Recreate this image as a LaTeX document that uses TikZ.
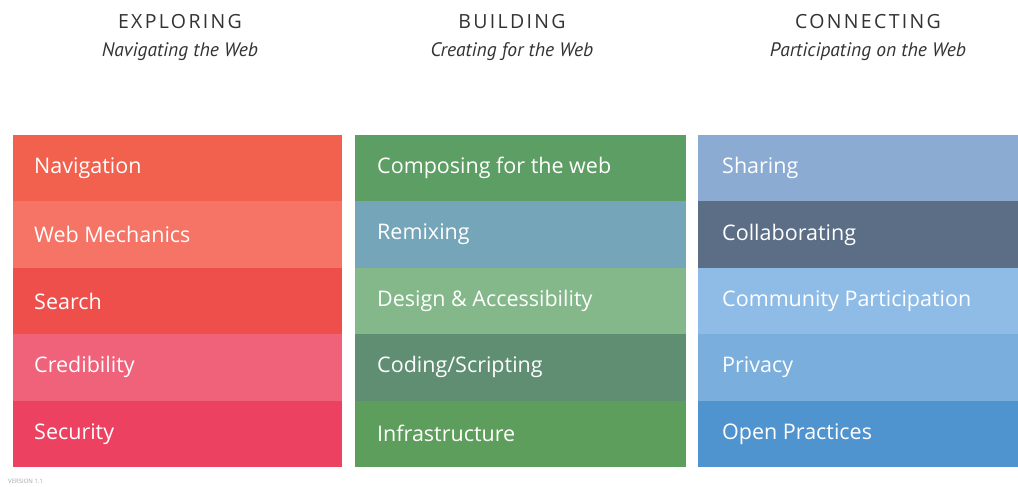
\documentclass[tikz,border=0pt]{standalone}
\usepackage{fontspec}
\setmainfont{Open Sans}
\newfontfamily\headfont[LetterSpace=12]{Open Sans}
\newfontfamily\subfont{PT Sans}
\definecolor{navC}{HTML}{F2604E}
\definecolor{mechC}{HTML}{F57466}
\definecolor{searchC}{HTML}{EF4F4A}
\definecolor{credC}{HTML}{F0627A}
\definecolor{secC}{HTML}{EC4160}
\definecolor{compC}{HTML}{5C9E64}
\definecolor{remixC}{HTML}{74A5B8}
\definecolor{designC}{HTML}{84B88A}
\definecolor{codeC}{HTML}{5F8E72}
\definecolor{infraC}{HTML}{5E9E5C}
\definecolor{shareC}{HTML}{8BABD3}
\definecolor{collabC}{HTML}{5B6E86}
\definecolor{commC}{HTML}{8EBCE6}
\definecolor{privC}{HTML}{7AAEDC}
\definecolor{openC}{HTML}{4F93CF}
\definecolor{headC}{HTML}{333333}
\tikzset{
  band/.style={fill=#1, draw=none},
  bandlabel/.style={anchor=west, text=white, font=\fontsize{21.5}{24}\selectfont, inner sep=0pt},
  heading/.style={text=headC, font=\headfont\fontsize{19.5}{22}\selectfont, inner sep=0pt},
  subheading/.style={text=headC, font=\subfont\itshape\fontsize{19.5}{22}\selectfont, inner sep=0pt},
}
\begin{document}
\begin{tikzpicture}[x=1pt,y=-1pt]
\useasboundingbox[fill=white] (0,0) rectangle (1018,487);

% column headings
\node[heading] (hExp) at (180,22) {EXPLORING};
\node[subheading] (sExp) at (180,52) {Navigating the Web};
\node[heading] (hBld) at (512,22) {BUILDING};
\node[subheading] (sBld) at (512,52) {Creating for the Web};
\node[heading] (hCon) at (868,22) {CONNECTING};
\node[subheading] (sCon) at (868,52) {Participating on the Web};

% Exploring column
\def\bandH{66.4}
\foreach \c/\t [count=\i from 0] in {navC/Navigation, mechC/Web Mechanics, searchC/Search, credC/Credibility, secC/Security}{
  \fill[band=\c] (13,135+\i*\bandH) rectangle (342,135+\i*\bandH+\bandH);
  \node[bandlabel] (e\i) at (34,135+\i*\bandH+0.5*\bandH) {\t};
}
% Building column
\foreach \c/\t [count=\i from 0] in {compC/{Composing for the web}, remixC/{Remixing}, designC/{Design \& Accessibility}, codeC/{Coding/Scripting}, infraC/{Infrastructure}}{
  \fill[band=\c] (355,135+\i*\bandH) rectangle (686,135+\i*\bandH+\bandH);
  \node[bandlabel] (b\i) at (377,135+\i*\bandH+0.5*\bandH) {\t};
}
% Connecting column
\foreach \c/\t [count=\i from 0] in {shareC/Sharing, collabC/Collaborating, commC/Community Participation, privC/Privacy, openC/Open Practices}{
  \fill[band=\c] (698,135+\i*\bandH) rectangle (1018,135+\i*\bandH+\bandH);
  \node[bandlabel] (c\i) at (722,135+\i*\bandH+0.5*\bandH) {\t};
}

% version note
\node[anchor=west, text=black!35, font=\fontsize{6}{7}\selectfont, inner sep=0pt] (ver) at (8,481) {VERSION 1.1};
\end{tikzpicture}
\end{document}
